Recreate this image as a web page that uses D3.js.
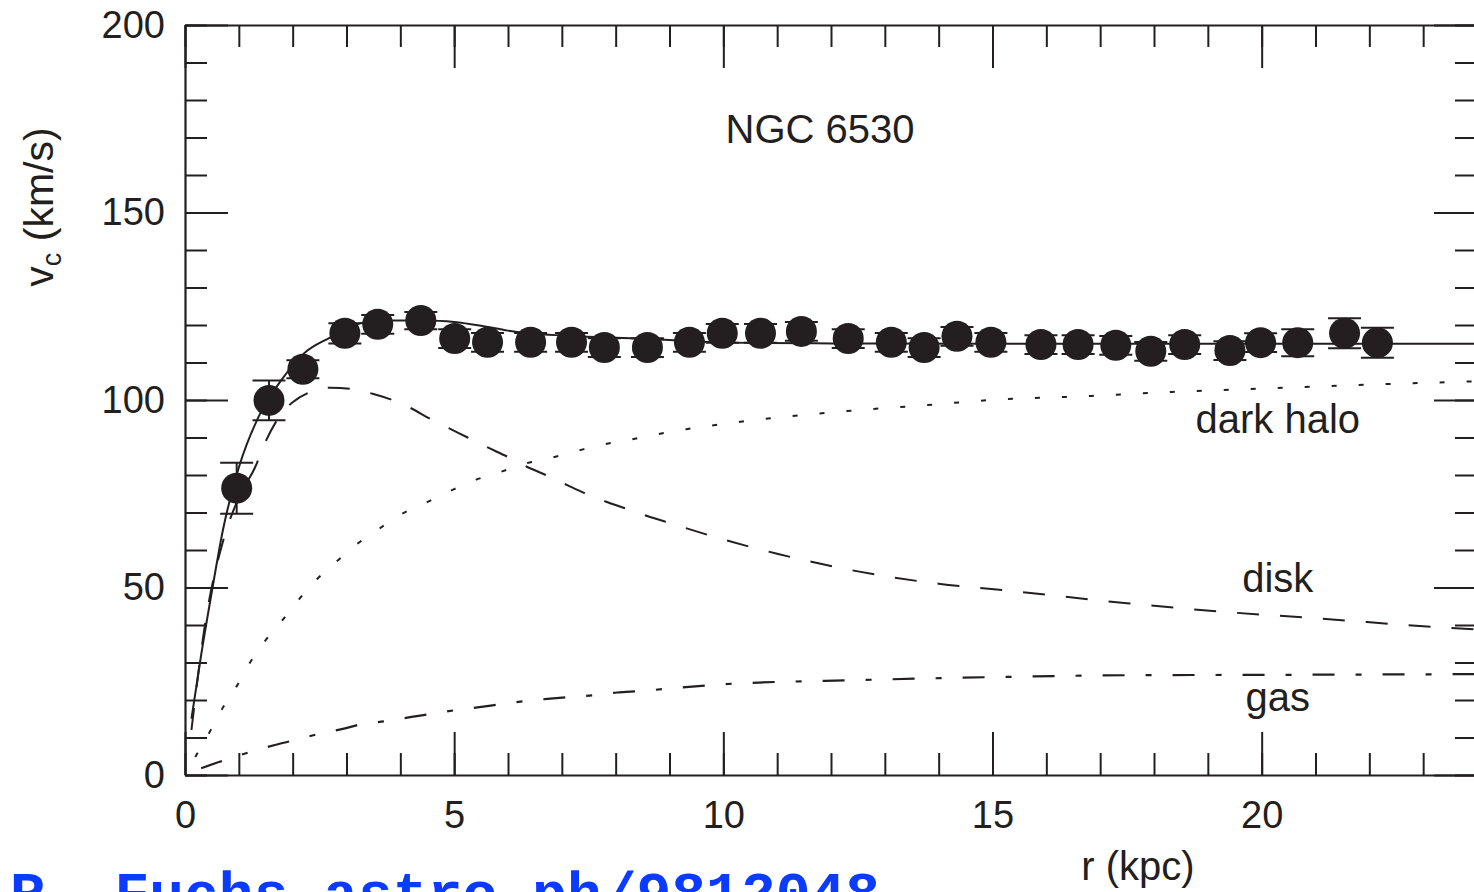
<!DOCTYPE html>
<html>
<head>
<meta charset="utf-8">
<script src="https://cdn.jsdelivr.net/npm/d3@7"></script>
<style>
  html, body { margin: 0; padding: 0; background: #fff; overflow: hidden; }
  svg { display: block; }
  text { font-family: "Liberation Sans", Arial, Helvetica, sans-serif; fill: #231f20; }
</style>
</head>
<body>
<svg id="chart" width="1474" height="892"></svg>
<script>
// ---------- data ----------
const rObs = [0.96,1.56,2.19,2.97,3.58,4.38,5.01,5.62,6.42,7.18,7.79,8.59,9.37,9.98,10.69,11.45,12.32,13.12,13.73,14.34,14.97,15.9,16.59,17.29,17.94,18.57,19.41,19.98,20.67,21.54,22.15];
const vObs = [76.5,99.9,108.2,117.8,120.2,121.2,116.4,115.4,115.4,115.4,114.0,114.0,115.4,117.8,117.8,118.3,116.4,115.4,114.0,117.0,115.4,114.8,114.8,114.6,113.0,114.8,113.2,115.3,115.3,117.8,115.3];
const eObs = [6.8,5.3,2.4,2.7,2.5,2.3,2.5,2.5,2.5,2.5,2.5,2.5,2.5,2.5,2.5,2.5,2.5,2.5,2.5,2.5,2.5,2.5,2.5,2.5,2.5,2.5,2.5,2.5,3.6,4.0,4.0];

const rTot = [0.12,0.3,0.5,0.7,1.0,1.4,1.8,2.2,2.7,3.0,3.3,3.8,4.5,5.0,5.5,6.0,7.0,8.0,9.0,10,12,15,20,24];
const vTot = [15,32,49,65,82,96.5,105.5,112.3,116.7,119,120.6,121.2,121.2,120.8,119.8,118.5,117.2,116.6,116.0,115.3,115.1,115.0,115.0,115.0];

const rDisk = [0.12,0.37,0.7,1.0,1.3,1.5,1.8,2.0,2.3,2.7,3.1,3.5,3.85,4.2,4.55,4.9,5.25,5.6,6.0,6.35,6.7,7.1,7.4,7.8,8.2,8.6,9,10,11,12.5,14,15.2,17.5,19.3,21,23.3,24];
const vDisk = [12,40,62,74,82,89,96.5,99.4,102,103.3,102.9,101.6,100,97.8,95,92.5,90,87.5,84.8,82.2,80,77.3,75.3,73,71,69,67.2,62.8,59,54.3,51,49.3,45.8,43.5,41.8,39.4,38.8];

const rHalo = [0.19,0.46,0.7,0.96,1.2,1.5,1.81,2.12,2.45,2.82,3.19,3.62,4.05,4.49,4.95,5.38,5.84,6.34,6.83,7.33,7.79,8.29,8.78,9.31,10.73,12.25,13.73,15.2,16.7,18.4,20.1,22,24];
const vHalo = [4.8,11.5,17.9,23.7,29.8,36,41.3,46.9,52.2,57,61.5,65.8,69.8,72.7,75.9,78.6,80.7,83.1,84.7,86.6,88.2,89.5,90.9,92.2,94.9,97,98.6,100.2,101,102.2,103.1,104.1,105];

const rGas = [0.3,0.8,1.2,1.67,2.04,2.47,2.93,3.3,3.75,4.21,4.58,5.03,5.47,5.88,6.31,6.73,7.14,7.6,8.03,8.48,8.87,10,12.5,15,17.5,20,24];
const vGas = [1.8,4.3,6.1,8,9.3,10.9,12.3,13.6,14.4,15.5,16.3,17.3,18.1,18.9,19.7,20.3,20.8,21.3,22,22.4,22.9,24.2,25.3,26.1,26.6,26.7,26.9];

const xMajor = [0,5,10,15,20];
const yMajor = [0,50,100,150,200];

const curveLabels = ["dark halo","disk","gas"];
const curveLabelPos = [[20.3,91.2],[20.3,48.8],[20.3,17.0]]; // data coords (r, v) of label baseline centre

// ---------- setup ----------
const ink = "#231f20";
const svg = d3.select("#chart");
svg.append("rect").attr("width",1474).attr("height",892).attr("fill","#fff");

const x = d3.scaleLinear().domain([0,24]).range([185,1477]);
const y = d3.scaleLinear().domain([0,200]).range([775,25]);

svg.append("defs").append("clipPath").attr("id","clip")
  .append("rect").attr("x",x(0)).attr("y",y(200)).attr("width",x(24)-x(0)).attr("height",y(0)-y(200));

function styleAxis(g){
  g.selectAll("path.domain").attr("stroke",ink).attr("stroke-width",2.2);
  g.selectAll(".tick line").attr("stroke",ink).attr("stroke-width",2);
  g.selectAll("text").attr("fill",ink).style("font-family","'Liberation Sans', Arial, sans-serif").style("font-size","38px");
}
const minorX = d3.range(0,25,1);
const minorY = d3.range(0,201,10);

// bottom
svg.append("g").attr("transform",`translate(0,${y(0)})`)
  .call(d3.axisBottom(x).tickValues(minorX).tickSize(-22).tickSizeOuter(0).tickFormat(""))
  .call(g=>g.select(".domain").remove()).call(styleAxis);
svg.append("g").attr("transform",`translate(0,${y(0)})`)
  .call(d3.axisBottom(x).tickValues(xMajor).tickSize(-43).tickSizeOuter(0).tickPadding(26).tickFormat(d3.format("d")))
  .call(styleAxis);
// top
svg.append("g").attr("transform",`translate(0,${y(200)})`)
  .call(d3.axisTop(x).tickValues(minorX).tickSize(-22).tickSizeOuter(0).tickFormat(""))
  .call(g=>g.select(".domain").remove()).call(styleAxis);
svg.append("g").attr("transform",`translate(0,${y(200)})`)
  .call(d3.axisTop(x).tickValues(xMajor).tickSize(-43).tickSizeOuter(0).tickFormat(""))
  .call(styleAxis);
// left
svg.append("g").attr("transform",`translate(${x(0)},0)`)
  .call(d3.axisLeft(y).tickValues(minorY).tickSize(-22).tickSizeOuter(0).tickFormat(""))
  .call(g=>g.select(".domain").remove()).call(styleAxis);
svg.append("g").attr("transform",`translate(${x(0)},0)`)
  .call(d3.axisLeft(y).tickValues(yMajor).tickSize(-43).tickSizeOuter(0).tickPadding(20).tickFormat(d3.format("d")))
  .call(styleAxis);
// right
svg.append("g").attr("transform",`translate(${x(24)},0)`)
  .call(d3.axisRight(y).tickValues(minorY).tickSize(-22).tickSizeOuter(0).tickFormat(""))
  .call(g=>g.select(".domain").remove()).call(styleAxis);
svg.append("g").attr("transform",`translate(${x(24)},0)`)
  .call(d3.axisRight(y).tickValues(yMajor).tickSize(-43).tickSizeOuter(0).tickFormat(""))
  .call(styleAxis);

// ---------- model curves ----------
const line = d3.line().x(d=>x(d[0])).y(d=>y(d[1])).curve(d3.curveMonotoneX);
const curves = svg.append("g").attr("clip-path","url(#clip)").attr("fill","none").attr("stroke",ink);
curves.append("path").attr("d",line(d3.zip(rHalo,vHalo))).attr("stroke-width",2).attr("stroke-dasharray","5,22");
curves.append("path").attr("d",line(d3.zip(rDisk,vDisk))).attr("stroke-width",2).attr("stroke-dasharray","22,21");
curves.append("path").attr("d",line(d3.zip(rGas,vGas))).attr("stroke-width",2.2).attr("stroke-dasharray","22,21,6,21");
curves.append("path").attr("d",line(d3.zip(rTot,vTot))).attr("stroke-width",2);

// ---------- observed points ----------
const obs = d3.zip(rObs,vObs,eObs);
const pts = svg.append("g");
const capHalf = 16.5;
pts.selectAll("line.eb").data(obs).join("line").attr("class","eb")
  .attr("x1",d=>x(d[0])).attr("x2",d=>x(d[0]))
  .attr("y1",d=>y(d[1]-d[2])).attr("y2",d=>y(d[1]+d[2]))
  .attr("stroke",ink).attr("stroke-width",2);
pts.selectAll("line.capt").data(obs).join("line").attr("class","capt")
  .attr("x1",d=>x(d[0])-capHalf).attr("x2",d=>x(d[0])+capHalf)
  .attr("y1",d=>y(d[1]+d[2])).attr("y2",d=>y(d[1]+d[2]))
  .attr("stroke",ink).attr("stroke-width",2);
pts.selectAll("line.capb").data(obs).join("line").attr("class","capb")
  .attr("x1",d=>x(d[0])-capHalf).attr("x2",d=>x(d[0])+capHalf)
  .attr("y1",d=>y(d[1]-d[2])).attr("y2",d=>y(d[1]-d[2]))
  .attr("stroke",ink).attr("stroke-width",2);
pts.selectAll("circle").data(obs).join("circle")
  .attr("cx",d=>x(d[0])).attr("cy",d=>y(d[1])).attr("r",15.5)
  .attr("fill",ink);

// ---------- texts ----------
svg.append("text").attr("x",820).attr("y",143).attr("text-anchor","middle")
  .style("font-size","40px").text("NGC 6530");

curveLabels.forEach((t,i)=>{
  svg.append("text").attr("x",x(curveLabelPos[i][0])).attr("y",y(curveLabelPos[i][1]))
    .attr("text-anchor","middle").style("font-size","40px").text(t);
});

// axis titles
svg.append("text").attr("x",1138).attr("y",880).attr("text-anchor","middle")
  .style("font-size","40px").text("r (kpc)");

const yt = svg.append("text").attr("transform","translate(53,207) rotate(-90)")
  .attr("text-anchor","middle").style("font-size","41px");
yt.append("tspan").text("v");
yt.append("tspan").attr("dy",8).style("font-size","27px").text("c");
yt.append("tspan").attr("dy",-8).text(" (km/s)");

// credit line (cut off at the bottom edge, as in the reference)
svg.append("text").attr("x",10).attr("y",912)
  .style("font-family","'Liberation Mono', 'DejaVu Sans Mono', monospace")
  .style("font-weight","bold").style("font-size","58px")
  .style("fill","#0b3bff").text("R. Fuchs astro-ph/9812048");
</script>
</body>
</html>
